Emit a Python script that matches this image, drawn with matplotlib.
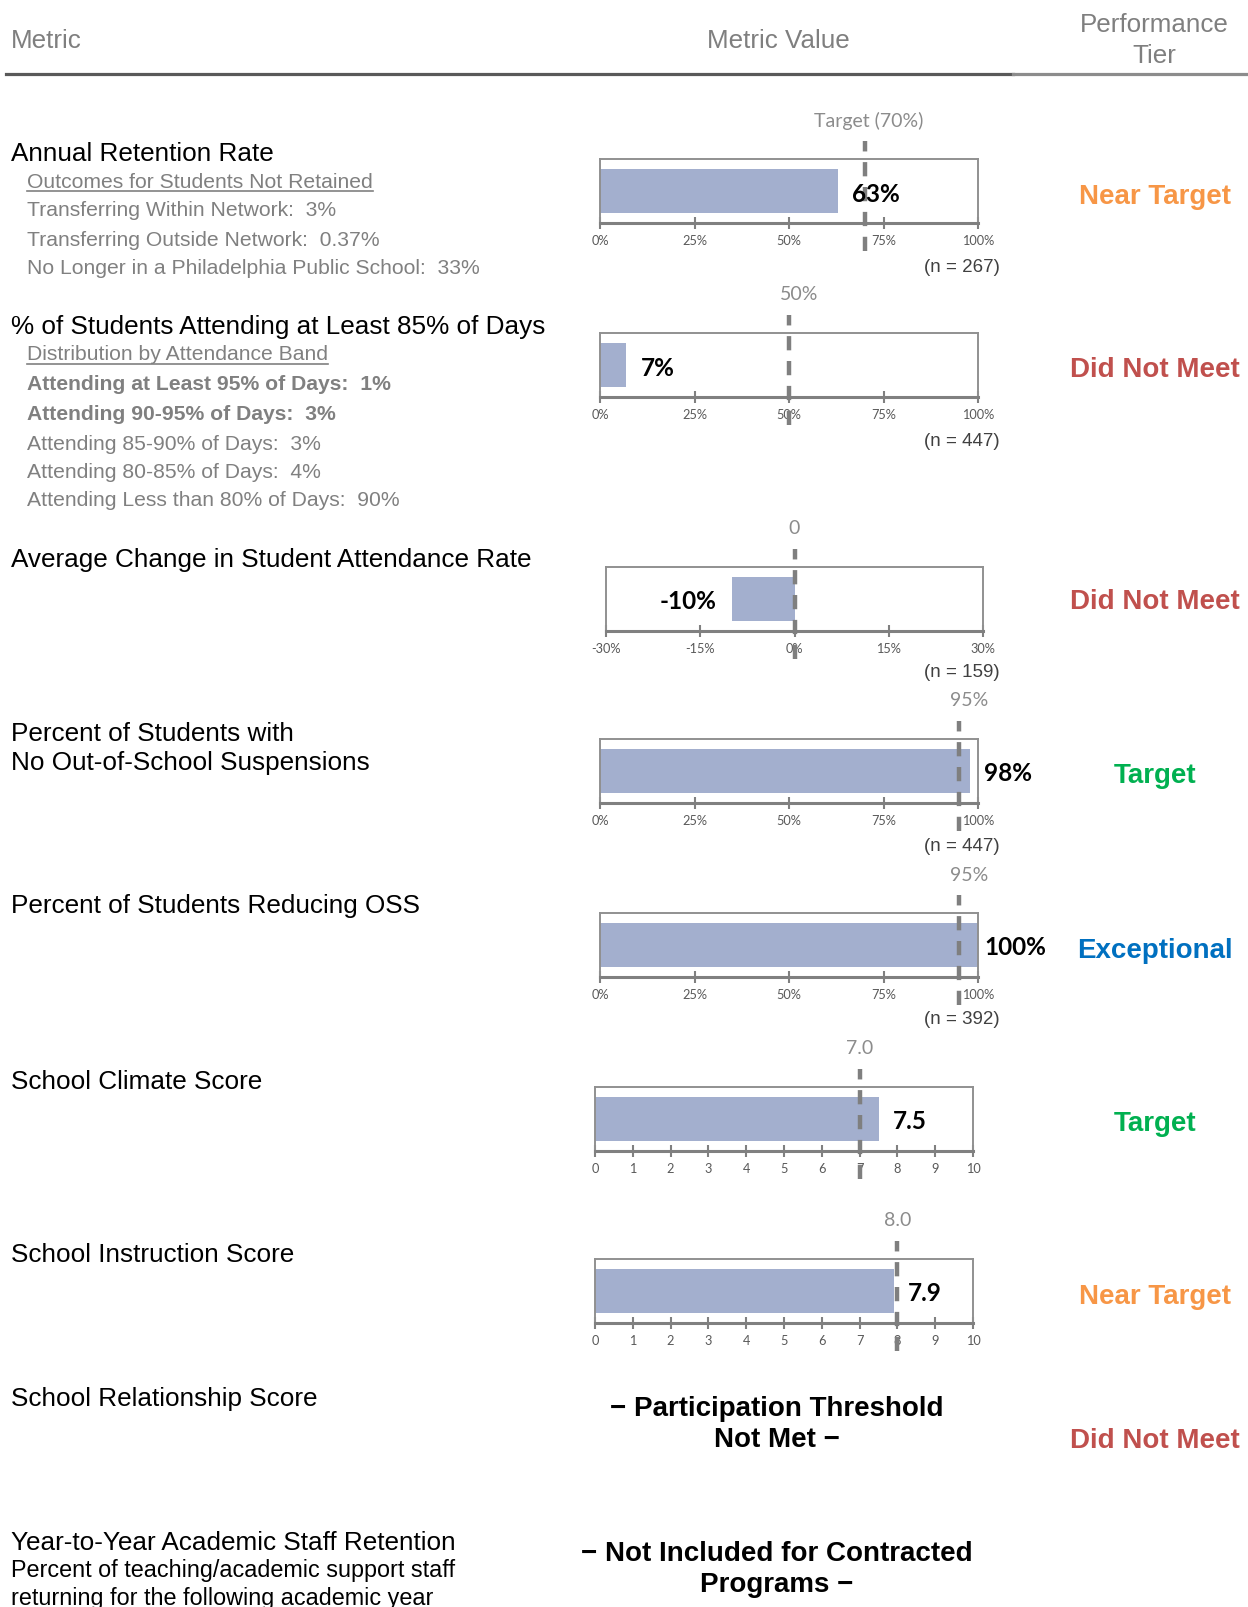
import matplotlib
matplotlib.use("Agg")
import matplotlib.pyplot as plt
import matplotlib.transforms as mtransforms

# ---------------- data ----------------
headers = ["Metric", "Metric Value", "Performance\nTier"]

values = [63, 7, -10, 98, 100, 7.5, 7.9]
value_labels = ["63%", "7%", "-10%", "98%", "100%", "7.5", "7.9"]
targets = [70, 50, 0, 95, 95, 7.0, 8.0]
target_labels = ["Target (70%)", "50%", "0", "95%", "95%", "7.0", "8.0"]
n_counts = [267, 447, 159, 447, 392, None, None]
x_limits = [(0, 100), (0, 100), (-30, 30), (0, 100), (0, 100), (0, 10), (0, 10)]
x_ticks = [
    [0, 25, 50, 75, 100],
    [0, 25, 50, 75, 100],
    [-30, -15, 0, 15, 30],
    [0, 25, 50, 75, 100],
    [0, 25, 50, 75, 100],
    list(range(0, 11)),
    list(range(0, 11)),
]
tick_formats = ["{:d}%", "{:d}%", "{:d}%", "{:d}%", "{:d}%", "{:d}", "{:d}"]

tiers = ["Near Target", "Did Not Meet", "Did Not Meet", "Target", "Exceptional",
         "Target", "Near Target", "Did Not Meet"]
tier_colors = {"Near Target": "#F79646", "Did Not Meet": "#C0504D",
               "Target": "#00B050", "Exceptional": "#0070C0"}

metric_blocks = [
    [("Annual Retention Rate", "main"),
     ("Outcomes for Students Not Retained", "under"),
     ("Transferring Within Network:  3%", "sub"),
     ("Transferring Outside Network:  0.37%", "sub"),
     ("No Longer in a Philadelphia Public School:  33%", "sub")],
    [("% of Students Attending at Least 85% of Days", "main"),
     ("Distribution by Attendance Band", "under"),
     ("Attending at Least 95% of Days:  1%", "subbold"),
     ("Attending 90-95% of Days:  3%", "subbold"),
     ("Attending 85-90% of Days:  3%", "sub"),
     ("Attending 80-85% of Days:  4%", "sub"),
     ("Attending Less than 80% of Days:  90%", "sub")],
    [("Average Change in Student Attendance Rate", "main")],
    [("Percent of Students with", "main"), ("No Out-of-School Suspensions", "main")],
    [("Percent of Students Reducing OSS", "main")],
    [("School Climate Score", "main")],
    [("School Instruction Score", "main")],
    [("School Relationship Score", "main")],
    [("Year-to-Year Academic Staff Retention", "main"),
     ("Percent of teaching/academic support staff", "note"),
     ("returning for the following academic year", "note")],
]

messages = ["\u2212 Participation Threshold\nNot Met \u2212",
            "\u2212 Not Included for Contracted\nPrograms \u2212"]

# ---------------- layout (pixels) ----------------
W, H = 1248, 1608
fig = plt.figure(figsize=(W / 100, H / 100), dpi=100)

def fx(x):
    return x / W

def fy(y):
    return 1 - y / H

ARIAL = "Liberation Sans"
CAL = "Lato"
GRAY_HDR = "#7F7F7F"
GRAY_SUB = "#808080"

# headers
fig.text(fx(11), fy(41), headers[0], fontsize=18.7, color=GRAY_HDR, family=ARIAL,
         ha="left", va="center")
fig.text(fx(778), fy(41), headers[1], fontsize=18.7, color=GRAY_HDR, family=ARIAL,
         ha="center", va="center")
fig.text(fx(1154), fy(40.5), headers[2], fontsize=18.7, color=GRAY_HDR, family=ARIAL,
         ha="center", va="center", linespacing=1.42)
fig.add_artist(plt.Line2D([fx(6), fx(1013)], [fy(75), fy(75)], color="#595959", lw=2.3,
                          transform=fig.transFigure))
fig.add_artist(plt.Line2D([fx(1013), fx(1248)], [fy(75), fy(75)], color="#8C8C8C", lw=2.3,
                          transform=fig.transFigure))

# left metric text
block_line_y = [
    [154, 182, 211, 240, 268.5],
    [327, 355, 384.5, 414.5, 444, 472.5, 500.5],
    [560],
    [734, 763],
    [906.5],
    [1082],
    [1255],
    [1399],
    [1543, 1571, 1599],
]
for block, ys in zip(metric_blocks, block_line_y):
    for (txt, kind), y in zip(block, ys):
        if kind == "main":
            fig.text(fx(11), fy(y), txt, fontsize=18.8, color="black", family=ARIAL,
                     ha="left", va="center")
        elif kind == "note":
            fig.text(fx(11), fy(y), txt, fontsize=16.8, color="black", family=ARIAL,
                     ha="left", va="center")
        else:
            weight = "bold" if kind == "subbold" else "normal"
            t = fig.text(fx(27), fy(y), txt, fontsize=15.2, color=GRAY_SUB, family=ARIAL,
                         ha="left", va="center", fontweight=weight)
            if kind == "under":
                fig.canvas.draw()
                bb = t.get_window_extent()
                fig.add_artist(plt.Line2D([bb.x0 / W, bb.x1 / W],
                                          [fy(y + 10), fy(y + 10)],
                                          color=GRAY_SUB, lw=1.2,
                                          transform=fig.transFigure))

# bullet charts
box_tops = [160, 334, 568, 740, 914, 1088, 1260]
box_h = 64
box_x = [(600, 978), (600, 978), (606, 983), (600, 978), (600, 978), (595, 973), (595, 973)]
n_label_y = [267, 442, 673, 847, 1020]

for i, v in enumerate(values):
    x0, x1 = box_x[i]
    top = box_tops[i]
    ax = fig.add_axes([fx(x0), fy(top + box_h), (x1 - x0) / W, box_h / H])
    lo, hi = x_limits[i]
    ax.set_xlim(lo, hi)
    ax.set_ylim(-0.5, 0.5)
    ax.barh([0], [v], height=0.69, color="#A3AFCE", zorder=2)
    for s in ["top", "left", "right"]:
        ax.spines[s].set_color("#909090")
        ax.spines[s].set_linewidth(1.4)
    ax.spines["bottom"].set_color("#808080")
    ax.spines["bottom"].set_linewidth(2.2)
    ax.set_yticks([])
    ax.set_xticks(x_ticks[i])
    ax.set_xticklabels([tick_formats[i].format(t) for t in x_ticks[i]],
                       fontsize=9.2, color="#595959", family=CAL)
    ax.tick_params(axis="x", direction="inout", length=8, width=1.5, color="#808080", pad=4)

    # target dashed line
    ax.axvline(targets[i], ymin=-28 / box_h, ymax=1 + 18 / box_h, color="#7F7F7F",
               lw=3.2, linestyle=(0, (3.2, 2.4)), clip_on=False, zorder=3)
    lab = target_labels[i]
    if lab.endswith("%"):
        shift = 10
    elif lab.endswith(")"):
        shift = 4
    else:
        shift = 0
    ax.annotate(lab, xy=(targets[i], 1 + 39 / box_h),
                xycoords=mtransforms.blended_transform_factory(ax.transData, ax.transAxes),
                xytext=(shift * 0.72, 0), textcoords="offset points",
                ha="center", va="center", fontsize=14, color="#8C8C8C", family=CAL,
                annotation_clip=False)

    # value label
    px_per_unit = (x1 - x0) / (hi - lo)
    end_px = x0 + (v - lo) * px_per_unit
    if v >= 0:
        lab_px = min(end_px + 14, x1 + 6)
        ha = "left"
    else:
        lab_px = end_px - 15
        ha = "right"
    fig.text(fx(lab_px), fy(top + box_h / 2 + 2), value_labels[i], fontsize=17.5,
             fontweight="bold", color="black", family=CAL, ha=ha, va="center")

    if n_counts[i] is not None:
        fig.text(fx(1000), fy(n_label_y[i]), f"(n = {n_counts[i]})", fontsize=13.5,
                 color="#404040", family=ARIAL, ha="right", va="center")

# centered messages
msg_y = [1425, 1570]
for m, y in zip(messages, msg_y):
    fig.text(fx(777), fy(y), m, fontsize=20, fontweight="bold", color="black",
             family=ARIAL, ha="center", va="center", linespacing=1.25)

# performance tiers
tier_y = [197, 370, 602, 776, 951, 1124, 1297, 1441]
for t, y in zip(tiers, tier_y):
    fig.text(fx(1155), fy(y), t, fontsize=20, fontweight="bold", color=tier_colors[t],
             family=ARIAL, ha="center", va="center")

fig.savefig("out.png", dpi=100)
